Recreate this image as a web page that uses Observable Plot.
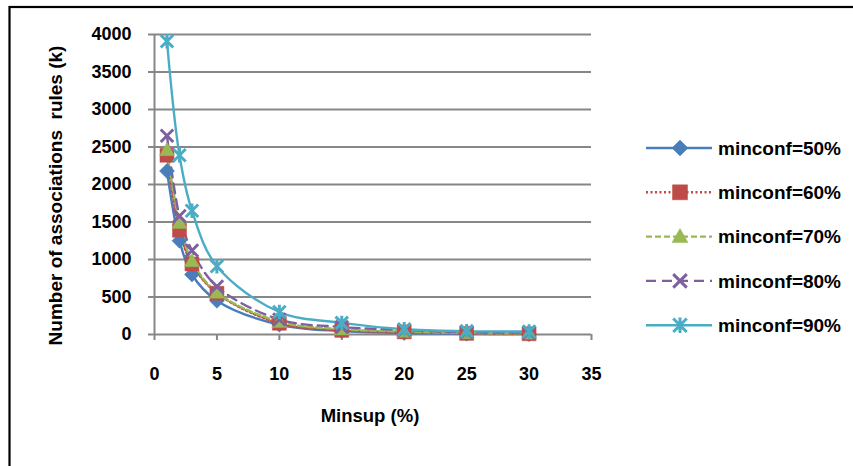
<!DOCTYPE html>
<html>
<head>
<meta charset="utf-8">
<script src="https://cdn.jsdelivr.net/npm/d3@7"></script>
<script src="https://cdn.jsdelivr.net/npm/@observablehq/plot@0.6"></script>
<style>
  body { margin: 0; background: #fff; }
  #chart { width: 853px; height: 466px; overflow: hidden; }
  #chart svg { display: block; }
</style>
</head>
<body>
<div id="chart"></div>
<script>
// Minimum support (%) tested
const minsup = [1, 2, 3, 5, 10, 15, 20, 25, 30];

// Number of association rules (thousands) for each minimum confidence
const conf50 = [2180, 1250, 800, 450, 130, 45, 20, 10, 5];
const conf60 = [2390, 1390, 940, 550, 150, 55, 35, 15, 10];
const conf70 = [2460, 1490, 980, 560, 170, 70, 40, 20, 15];
const conf80 = [2650, 1580, 1120, 640, 200, 100, 60, 30, 25];
const conf90 = [3910, 2390, 1650, 910, 300, 155, 70, 45, 40];

const seriesNames = ["minconf=50%", "minconf=60%", "minconf=70%", "minconf=80%", "minconf=90%"];
const seriesValues = [conf50, conf60, conf70, conf80, conf90];

const xTicks = [0, 5, 10, 15, 20, 25, 30, 35];
const yTicks = [0, 500, 1000, 1500, 2000, 2500, 3000, 3500, 4000];

const xTitle = "Minsup (%)";
const yTitle = "Number of associations  rules (k)";

// Office-style marker shapes; sqrt(size) is the marker's width
const squareDiamond = {
  draw(ctx, size) {
    const r = Math.sqrt(size) / 2;
    ctx.moveTo(0, -r); ctx.lineTo(r, 0); ctx.lineTo(0, r); ctx.lineTo(-r, 0); ctx.closePath();
  }
};
const officeSquare = {
  draw(ctx, size) {
    const r = Math.sqrt(size) / 2;
    ctx.rect(-r, -r, 2 * r, 2 * r);
  }
};
const officeTriangle = {
  draw(ctx, size) {
    const r = Math.sqrt(size) / 2;
    ctx.moveTo(0, -r); ctx.lineTo(r, r * 0.75); ctx.lineTo(-r, r * 0.75); ctx.closePath();
  }
};
const officeTimes = {
  draw(ctx, size) {
    const r = Math.sqrt(size) / 2;
    ctx.moveTo(-r, -r); ctx.lineTo(r, r); ctx.moveTo(r, -r); ctx.lineTo(-r, r);
  }
};
const officeStar = {
  draw(ctx, size) {
    const r = Math.sqrt(size) / 2;
    ctx.moveTo(-r, -r); ctx.lineTo(r, r); ctx.moveTo(r, -r); ctx.lineTo(-r, r);
    ctx.moveTo(0, -r * 1.15); ctx.lineTo(0, r * 1.15);
  }
};

const styles = [
  {color: "#4a7ebb", dash: null,    symbol: squareDiamond,  filled: true,  size: 15},
  {color: "#be4b48", dash: "2,2.5", symbol: officeSquare,   filled: true,  size: 14},
  {color: "#98b954", dash: "6,3",   symbol: officeTriangle, filled: true,  size: 15},
  {color: "#7d60a0", dash: "10,6",  symbol: officeTimes,    filled: false, size: 12.5},
  {color: "#4bacc6", dash: null,    symbol: officeStar,     filled: false, size: 12.5}
];

const rows = seriesNames.flatMap((name, i) =>
  minsup.map((x, j) => ({series: name, x, y: seriesValues[i][j]})));

const font = "'Liberation Sans', Arial, sans-serif";
const grid = "#878787";

const lineMarks = seriesNames.map((name, i) => {
  const s = styles[i];
  const data = rows.filter(d => d.series === name);
  return Plot.line(data, {
    x: "x", y: "y", curve: "catmull-rom",
    stroke: s.color, strokeWidth: 2.4,
    strokeDasharray: s.dash ?? undefined
  });
});

const dotMarks = seriesNames.map((name, i) => {
  const s = styles[i];
  const data = rows.filter(d => d.series === name);
  return Plot.dot(data, {
    x: "x", y: "y",
    symbol: () => s.symbol,
    r: s.size / Math.sqrt(Math.PI),
    fill: s.filled ? s.color : "none",
    stroke: s.color,
    strokeWidth: s.filled ? 0.5 : 3
  });
});

const chart = Plot.plot({
  width: 853,
  height: 466,
  marginLeft: 154,
  marginRight: 262,
  marginTop: 34,
  marginBottom: 132,
  style: {fontFamily: font, fontWeight: "bold", fontSize: "18px", color: "#000", background: "#fff"},
  x: {type: "linear", domain: [0, 35]},
  y: {type: "linear", domain: [0, 4000]},
  symbol: {type: "identity"},
  marks: [
    Plot.ruleY(yTicks, {x1: 0, x2: 35, stroke: grid, strokeWidth: 2}),
    Plot.ruleX([0], {y1: 0, y2: 4000, stroke: grid, strokeWidth: 2}),
    Plot.axisY({ticks: yTicks, tickFormat: d3.format("d"), tickSize: 6, tickPadding: 17, stroke: grid, strokeWidth: 2, label: null, fontSize: 18}),
    Plot.axisX({ticks: xTicks, tickFormat: d3.format("d"), tickSize: 6, tickPadding: 27, stroke: grid, strokeWidth: 2, label: null, fontSize: 18}),
    ...lineMarks,
    ...dotMarks,
    Plot.text([yTitle], {frameAnchor: "left", textAnchor: "middle", rotate: -90, dx: -99, dy: 11, fontSize: 19, fontWeight: "bold"}),
    Plot.text([xTitle], {frameAnchor: "bottom", textAnchor: "middle", dx: -3, dy: 87, fontSize: 18.5, fontWeight: "bold"})
  ]
});

// Outer chart frame and the series legend
const svg = d3.select(chart);
svg.append("rect")
  .attr("x", 9.5).attr("y", 7)
  .attr("width", 900).attr("height", 500)
  .attr("fill", "none").attr("stroke", "#000").attr("stroke-width", 2.2);

const legend = svg.append("g")
  .attr("font-family", font).attr("font-weight", "bold").attr("font-size", 19)
  .attr("text-anchor", "start");
seriesNames.forEach((name, i) => {
  const s = styles[i];
  const cy = 148 + i * 44.3;
  const g = legend.append("g").attr("transform", `translate(0,${cy})`);
  g.append("line")
    .attr("x1", 646).attr("x2", 712).attr("y1", 0).attr("y2", 0)
    .attr("stroke", s.color).attr("stroke-width", 2.4)
    .attr("stroke-dasharray", s.dash);
  g.append("path")
    .attr("transform", "translate(680,0)")
    .attr("d", d3.symbol(s.symbol, (s.size + 1) * (s.size + 1))())
    .attr("fill", s.filled ? s.color : "none")
    .attr("stroke", s.color)
    .attr("stroke-width", s.filled ? 0.5 : 3);
  g.append("text")
    .attr("x", 718).attr("y", 0).attr("dy", "0.36em")
    .attr("fill", "#000")
    .text(name);
});

document.getElementById("chart").append(chart);
</script>
</body>
</html>
